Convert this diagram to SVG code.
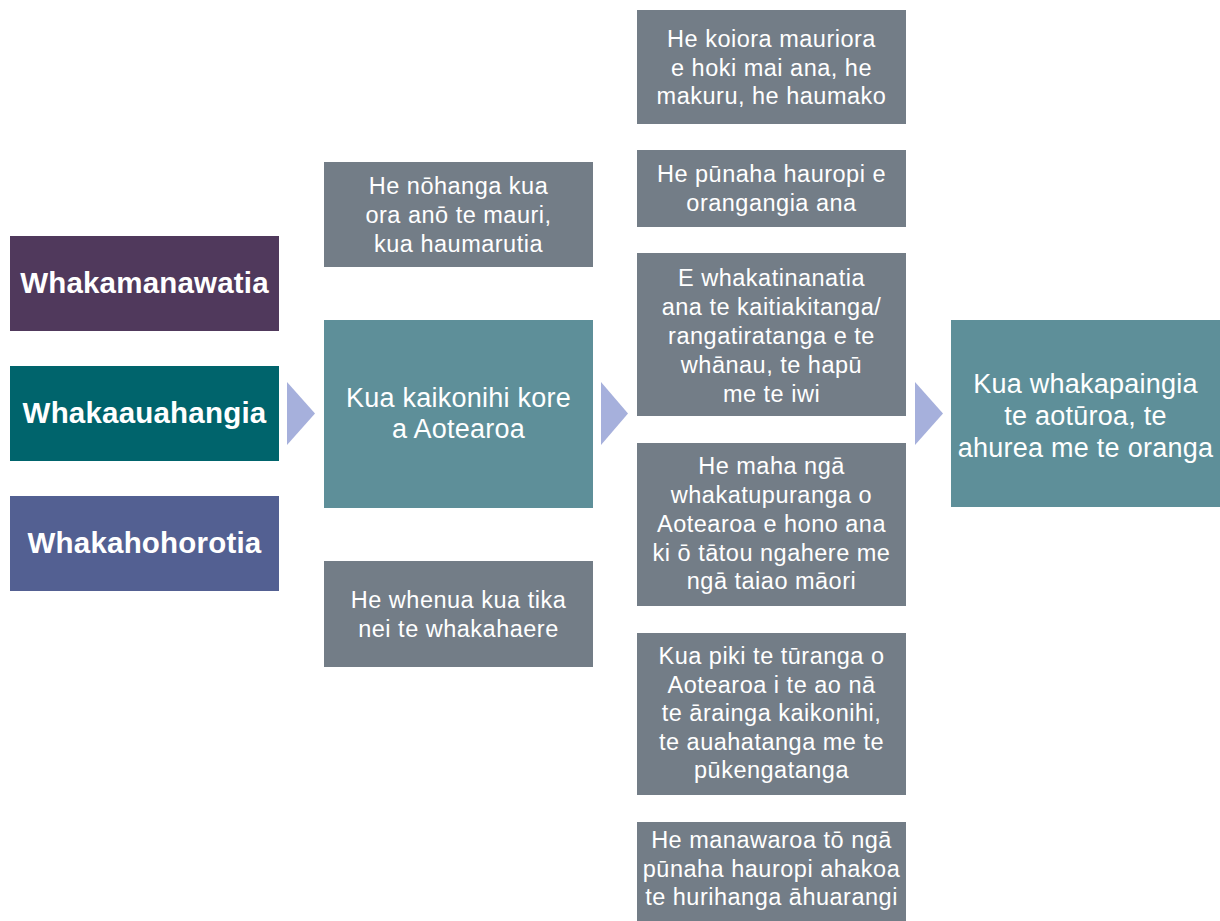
<svg xmlns="http://www.w3.org/2000/svg" width="1220" height="921" viewBox="0 0 1220 921">
<style>
  text { font-family: "Liberation Sans", Arial, Helvetica, sans-serif; fill: #ffffff; text-anchor: middle; }
  .lead { font-size: 29.5px; font-weight: bold; letter-spacing: 0.2px; }
  .gray { fill: #737d87; }
  .teal { fill: #5e8f99; }
  .g { font-size: 23.5px; letter-spacing: 0.5px; }
  .big { font-size: 27px; letter-spacing: 0.25px; }
  .arrow { fill: #a6b0dc; }
</style>
<rect width="1220" height="921" fill="#ffffff"/>

<g id="connectors">
  <polygon class="arrow" points="287,382 315,413.5 287,445"/>
  <polygon class="arrow" points="601,382 628,413.5 601,445"/>
  <polygon class="arrow" points="915,382 943,413.5 915,445"/>
</g>

<g id="whakamanawatia">
  <rect x="10" y="236" width="269" height="95" fill="#50395c"/>
  <text class="lead" x="144.5" y="293">Whakamanawatia</text>
</g>
<g id="whakaauahangia">
  <rect x="10" y="366" width="269" height="95" fill="#00646c"/>
  <text class="lead" x="144.5" y="423">Whakaauahangia</text>
</g>
<g id="whakahohorotia">
  <rect x="10" y="496" width="269" height="95" fill="#536092"/>
  <text class="lead" x="144.5" y="553">Whakahohorotia</text>
</g>

<g id="nohanga">
  <rect class="gray" x="324" y="162" width="269" height="105"/>
  <text class="g" x="458.5"><tspan x="458.5" y="194">He nōhanga kua</tspan><tspan x="458.5" y="223">ora anō te mauri,</tspan><tspan x="458.5" y="251.5">kua haumarutia</tspan></text>
</g>
<g id="kaikonihi-kore">
  <rect class="teal" x="324" y="320" width="269" height="188"/>
  <text class="big" x="458.5"><tspan x="458.5" y="407">Kua kaikonihi kore</tspan><tspan x="458.5" y="438">a Aotearoa</tspan></text>
</g>
<g id="whenua">
  <rect class="gray" x="324" y="561" width="269" height="106"/>
  <text class="g" x="458.5"><tspan x="458.5" y="608">He whenua kua tika</tspan><tspan x="458.5" y="637">nei te whakahaere</tspan></text>
</g>

<g id="koiora">
  <rect class="gray" x="637" y="10" width="269" height="114"/>
  <text class="g" x="771.5"><tspan x="771.5" y="47">He koiora mauriora</tspan><tspan x="771.5" y="75.5">e hoki mai ana, he</tspan><tspan x="771.5" y="104">makuru, he haumako</tspan></text>
</g>
<g id="punaha">
  <rect class="gray" x="637" y="150" width="269" height="77"/>
  <text class="g" x="771.5"><tspan x="771.5" y="182">He pūnaha hauropi e</tspan><tspan x="771.5" y="211">orangangia ana</tspan></text>
</g>
<g id="kaitiakitanga">
  <rect class="gray" x="637" y="253" width="269" height="163"/>
  <text class="g" x="771.5"><tspan x="771.5" y="286">E whakatinanatia</tspan><tspan x="771.5" y="315">ana te kaitiakitanga/</tspan><tspan x="771.5" y="344">rangatiratanga e te</tspan><tspan x="771.5" y="373">whānau, te hapū</tspan><tspan x="771.5" y="401.5">me te iwi</tspan></text>
</g>
<g id="whakatupuranga">
  <rect class="gray" x="637" y="443" width="269" height="163"/>
  <text class="g" x="771.5"><tspan x="771.5" y="474">He maha ngā</tspan><tspan x="771.5" y="503">whakatupuranga o</tspan><tspan x="771.5" y="532">Aotearoa e hono ana</tspan><tspan x="771.5" y="561">ki ō tātou ngahere me</tspan><tspan x="771.5" y="589">ngā taiao māori</tspan></text>
</g>
<g id="turanga">
  <rect class="gray" x="637" y="633" width="269" height="162"/>
  <text class="g" x="771.5"><tspan x="771.5" y="664">Kua piki te tūranga o</tspan><tspan x="771.5" y="692.5">Aotearoa i te ao nā</tspan><tspan x="771.5" y="721">te ārainga kaikonihi,</tspan><tspan x="771.5" y="749.5">te auahatanga me te</tspan><tspan x="771.5" y="778">pūkengatanga</tspan></text>
</g>
<g id="manawaroa">
  <rect class="gray" x="637" y="822" width="269" height="99"/>
  <text class="g" x="771.5"><tspan x="771.5" y="848">He manawaroa tō ngā</tspan><tspan x="771.5" y="877">pūnaha hauropi ahakoa</tspan><tspan x="771.5" y="905">te hurihanga āhuarangi</tspan></text>
</g>

<g id="aturoa">
  <rect class="teal" x="951" y="320" width="269" height="187"/>
  <text class="big" x="1085.5"><tspan x="1085.5" y="393">Kua whakapaingia</tspan><tspan x="1085.5" y="425">te aotūroa, te</tspan><tspan x="1085.5" y="457">ahurea me te oranga</tspan></text>
</g>
</svg>
